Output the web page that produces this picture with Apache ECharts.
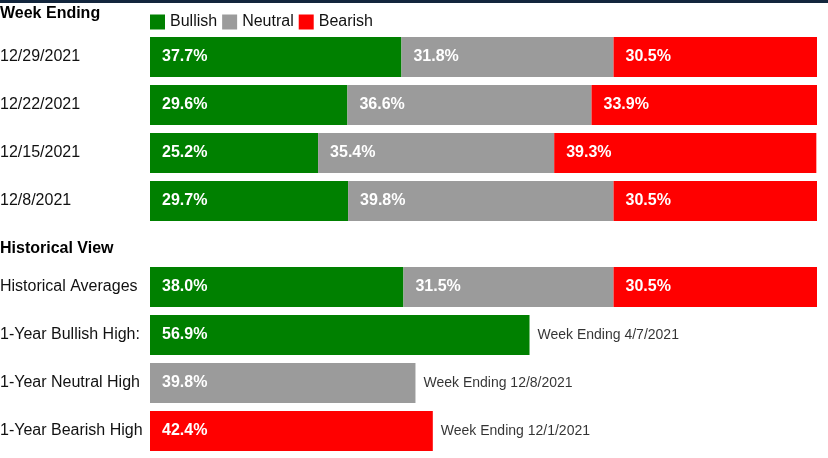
<!DOCTYPE html>
<html><head><meta charset="utf-8">
<script src="https://cdn.jsdelivr.net/npm/echarts@6/dist/echarts.min.js"></script>
<style>html,body{margin:0;padding:0;background:#fff}#c{width:828px;height:458px}</style>
</head><body><div id="c"></div>
<script>
const weeks = ['12/29/2021','12/22/2021','12/15/2021','12/8/2021'];
const bullish = [37.7,29.6,25.2,29.7];
const neutral = [31.8,36.6,35.4,39.8];
const bearish = [30.5,33.9,39.3,30.5];

const histCats = ['Historical Averages','1-Year Bullish High:','1-Year Neutral High','1-Year Bearish High'];
const histBullish = [38.0,56.9,'-','-'];
const histNeutral = [31.5,'-',39.8,'-'];
const histBearish = [30.5,'-','-',42.4];
const histNotes = ['','Week Ending 4/7/2021','Week Ending 12/8/2021','Week Ending 12/1/2021'];

const FONT = 'Arial, "Liberation Sans", sans-serif';
const colors = {Bullish:'#008000', Neutral:'#9b9b9b', Bearish:'#ff0000'};

function num(v){ return v === '-' ? 0 : v; }
const noteData = histCats.map((c,i)=> histNotes[i] ? [num(histBullish[i])+num(histNeutral[i])+num(histBearish[i]), c] : null).filter(Boolean);
const noteLabels = histNotes.filter(n=>n);

const labelCfg = {
  show:true, position:'insideLeft', distance:12, color:'#fff', fontWeight:'bold',
  fontSize:16, fontFamily:FONT,
  formatter: p => Number(p.value).toFixed(1) + '%'
};
function barSeries(name, data, idx){
  return {type:'bar', name, data, stack:'s'+idx, xAxisIndex:idx, yAxisIndex:idx,
    barWidth:40, itemStyle:{color:colors[name]}, label:labelCfg, silent:true};
}

const axisY = (cats, idx) => ({type:'category', data:cats, gridIndex:idx, inverse:true,
  axisLine:{show:false}, axisTick:{show:false},
  axisLabel:{align:'left', margin:150, fontSize:16, color:'#111', fontFamily:FONT}});
const axisX = idx => ({type:'value', min:0, max:100, gridIndex:idx, show:false, splitLine:{show:false}});

const chart = echarts.init(document.getElementById('c'), null, {renderer:'canvas'});
chart.setOption({
  animation:false,
  textStyle:{fontFamily:FONT},
  graphic:[{type:'rect', shape:{x:0,y:0,width:828,height:3}, style:{fill:'#13263d'}}],
  title:[
    {text:'Week Ending', left:0, top:6, padding:0, textStyle:{fontSize:16, fontWeight:'bold', color:'#000', fontFamily:FONT}},
    {text:'Historical View', left:0, top:241, padding:0, textStyle:{fontSize:16, fontWeight:'bold', color:'#000', fontFamily:FONT}}
  ],
  legend:{left:150, top:14, padding:0, itemWidth:15, itemHeight:15, itemGap:5, icon:'rect',
    data:['Bullish','Neutral','Bearish'],
    textStyle:{fontSize:16, color:'#111', fontFamily:FONT, padding:[0,0,0,0]}},
  grid:[
    {left:150, right:11, top:33, height:192, containLabel:false, outerBoundsMode:'none'},
    {left:150, right:11, top:263, height:192, containLabel:false, outerBoundsMode:'none'}
  ],
  xAxis:[axisX(0), axisX(1)],
  yAxis:[axisY(weeks,0), axisY(histCats,1)],
  series:[
    barSeries('Bullish', bullish, 0),
    barSeries('Neutral', neutral, 0),
    barSeries('Bearish', bearish, 0),
    barSeries('Bullish', histBullish, 1),
    barSeries('Neutral', histNeutral, 1),
    barSeries('Bearish', histBearish, 1),
    {type:'scatter', xAxisIndex:1, yAxisIndex:1, symbolSize:0, silent:true, data:noteData,
      label:{show:true, position:'right', distance:8, fontSize:14, color:'#000', fontFamily:FONT,
        formatter: p => noteLabels[p.dataIndex]}}
  ]
});
</script></body></html>
